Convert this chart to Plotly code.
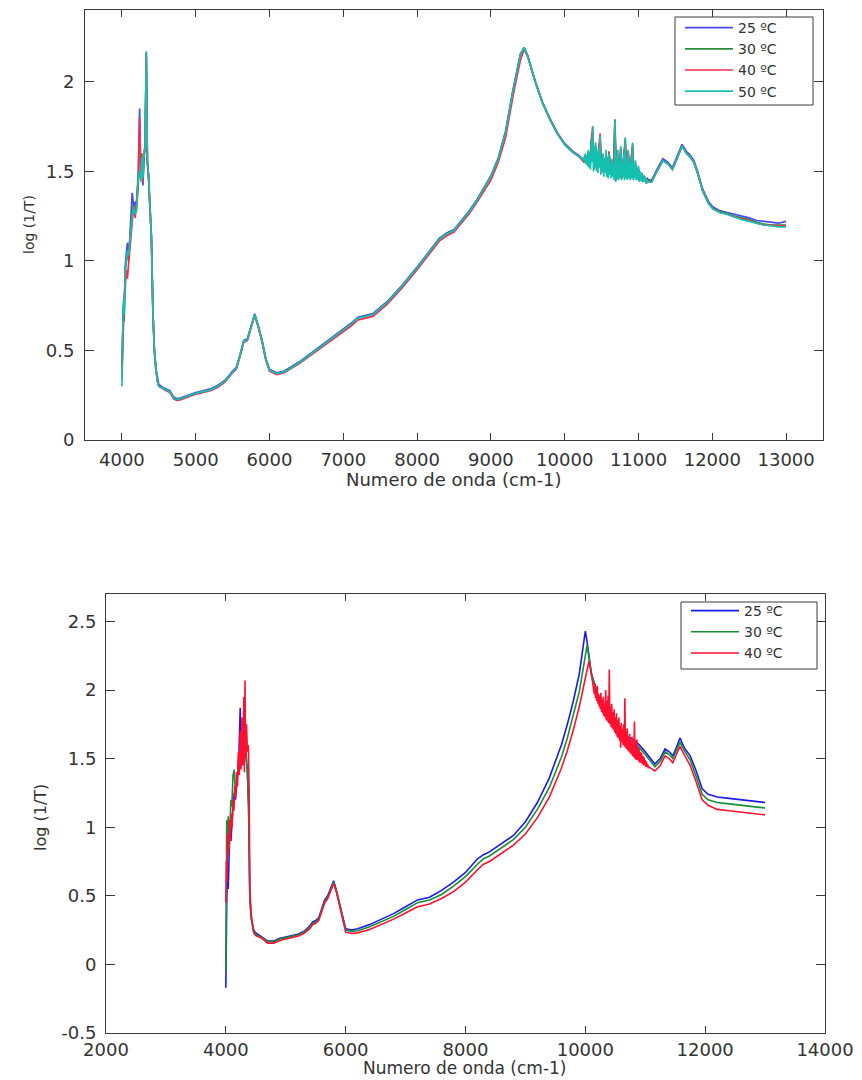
import plotly.graph_objects as go

# ---------------- Top chart data (4 temperatures) ----------------
top_x_a = [4000, 4010, 4020, 4030, 4045, 4060, 4075, 4090, 4105, 4120, 4140, 4160, 4180, 4200, 4220,
           4240, 4255, 4270, 4285, 4300, 4315, 4330, 4345, 4360, 4380, 4400, 4420, 4440, 4460, 4480, 4500]
top_x_b = [4550, 4600, 4650, 4700, 4750, 4800, 4900, 5000, 5100, 5200, 5300, 5400, 5500, 5550, 5600,
           5650, 5700, 5750, 5800, 5850, 5900, 5950, 6000, 6100, 6200, 6400, 6600, 6800, 7000, 7100,
           7200, 7300, 7400, 7600, 7800, 8000, 8200, 8300, 8400, 8500, 8600, 8700, 8800, 9000, 9100,
           9200, 9300, 9400, 9450, 9500, 9600, 9700, 9800, 9900, 10000, 10100, 10200]
top_x_c = [10240, 10260, 10280, 10300, 10320, 10340, 10360, 10380, 10400, 10420,
           10440, 10460, 10480, 10500, 10520, 10540, 10560, 10580, 10600, 10620,
           10640, 10660, 10680, 10700, 10720, 10740, 10760, 10780, 10800, 10820,
           10840, 10860, 10880, 10900, 10920, 10940, 10960, 10980, 11000, 11020,
           11040, 11060, 11080, 11100, 11120, 11140]
top50_x_c = [10240, 10250, 10260, 10270, 10280, 10290, 10300, 10310, 10320, 10330,
             10340, 10350, 10360, 10370, 10380, 10390, 10400, 10410, 10420, 10430,
             10440, 10450, 10460, 10470, 10480, 10490, 10500, 10510, 10520, 10530,
             10540, 10550, 10560, 10570, 10580, 10590, 10600, 10610, 10620, 10630,
             10640, 10650, 10660, 10670, 10680, 10690, 10700, 10710, 10720, 10730,
             10740, 10750, 10760, 10770, 10780, 10790, 10800, 10810, 10820, 10830,
             10840, 10850, 10860, 10870, 10880, 10890, 10900, 10910, 10920, 10930,
             10940, 10950, 10960, 10970, 10980, 10990, 11000, 11010, 11020, 11030,
             11040, 11050, 11060, 11070, 11080, 11090, 11100, 11110, 11120, 11130,
             11140]
top_x_d = [11180, 11250, 11330, 11400, 11460, 11520, 11590, 11650, 11700, 11750, 11800, 11870,
           11950, 12010, 12100, 12200, 12300, 12400, 12500, 12600, 12700, 12800, 12900, 13000]

t25_a = [0.42, 0.62, 0.75, 0.68, 0.97, 1.04, 1.10, 1.00, 1.14, 1.20, 1.38, 1.30, 1.33, 1.30, 1.42,
         1.85, 1.50, 1.55, 1.42, 1.58, 1.64, 2.15, 1.55, 1.48, 1.30, 1.13, 0.72, 0.50, 0.40, 0.34, 0.31]
t30_a = [0.38, 0.58, 0.74, 0.66, 0.94, 1.00, 1.05, 1.02, 1.10, 1.15, 1.28, 1.31, 1.27, 1.32, 1.48,
         1.50, 1.46, 1.60, 1.48, 1.60, 1.65, 2.16, 1.56, 1.48, 1.30, 1.13, 0.72, 0.50, 0.40, 0.33, 0.30]
t40_a = [0.34, 0.45, 0.62, 0.80, 0.85, 0.95, 0.90, 0.98, 1.08, 1.12, 1.22, 1.30, 1.24, 1.34, 1.45,
         1.80, 1.48, 1.57, 1.44, 1.59, 1.62, 2.16, 1.55, 1.48, 1.30, 1.12, 0.72, 0.50, 0.40, 0.33, 0.30]
t50_a = [0.30, 0.50, 0.78, 0.70, 0.95, 1.00, 1.06, 1.03, 1.12, 1.16, 1.25, 1.30, 1.26, 1.28, 1.46,
         1.50, 1.44, 1.58, 1.46, 1.60, 1.63, 2.17, 1.55, 1.48, 1.30, 1.13, 0.72, 0.50, 0.40, 0.33, 0.30]

t25_b = [0.295, 0.285, 0.275, 0.24, 0.23, 0.235, 0.25, 0.265, 0.275, 0.285, 0.305, 0.335, 0.385, 0.405, 0.475,
         0.555, 0.565, 0.635, 0.705, 0.635, 0.555, 0.455, 0.395, 0.375, 0.385, 0.435, 0.495, 0.555, 0.615, 0.65,
         0.685, 0.695, 0.705, 0.775, 0.865, 0.965, 1.075, 1.125, 1.155, 1.175, 1.225, 1.275, 1.335, 1.475, 1.575,
         1.725, 1.955, 2.155, 2.19, 2.145, 2.005, 1.885, 1.795, 1.715, 1.655, 1.615, 1.585]
t30_b = [0.29, 0.28, 0.27, 0.235, 0.225, 0.23, 0.245, 0.26, 0.27, 0.28, 0.30, 0.33, 0.38, 0.40, 0.47,
         0.55, 0.56, 0.63, 0.70, 0.63, 0.55, 0.45, 0.39, 0.37, 0.38, 0.43, 0.49, 0.55, 0.61, 0.645,
         0.68, 0.69, 0.70, 0.77, 0.86, 0.96, 1.07, 1.12, 1.15, 1.17, 1.22, 1.27, 1.33, 1.47, 1.57,
         1.72, 1.95, 2.15, 2.19, 2.14, 2.00, 1.88, 1.79, 1.71, 1.65, 1.61, 1.58]
t40_b = [0.285, 0.275, 0.265, 0.23, 0.22, 0.225, 0.24, 0.255, 0.265, 0.275, 0.295, 0.325, 0.375, 0.395, 0.465,
         0.545, 0.555, 0.625, 0.695, 0.625, 0.545, 0.445, 0.385, 0.365, 0.375, 0.425, 0.485, 0.545, 0.60, 0.635,
         0.67, 0.68, 0.69, 0.76, 0.85, 0.95, 1.06, 1.11, 1.14, 1.16, 1.21, 1.26, 1.32, 1.45, 1.55,
         1.69, 1.92, 2.12, 2.18, 2.14, 2.00, 1.88, 1.79, 1.71, 1.65, 1.61, 1.58]
t50_b = [0.29, 0.28, 0.27, 0.235, 0.225, 0.23, 0.245, 0.26, 0.27, 0.28, 0.30, 0.33, 0.38, 0.40, 0.47,
         0.55, 0.56, 0.63, 0.70, 0.63, 0.55, 0.45, 0.39, 0.37, 0.38, 0.43, 0.49, 0.55, 0.61, 0.645,
         0.68, 0.69, 0.70, 0.77, 0.86, 0.96, 1.07, 1.12, 1.15, 1.17, 1.22, 1.27, 1.33, 1.47, 1.57,
         1.72, 1.95, 2.15, 2.19, 2.14, 2.00, 1.88, 1.79, 1.71, 1.65, 1.61, 1.58]

t25_c = [1.57, 1.56, 1.58, 1.55, 1.60, 1.54, 1.64, 1.70, 1.53, 1.62, 1.54, 1.60, 1.66, 1.51, 1.58, 1.52,
         1.56, 1.49, 1.60, 1.51, 1.55, 1.49, 1.72, 1.48, 1.58, 1.48, 1.62, 1.48, 1.57, 1.65, 1.48, 1.60,
         1.48, 1.56, 1.62, 1.48, 1.53, 1.47, 1.51, 1.46, 1.49, 1.46, 1.47, 1.45, 1.46, 1.45]
t30_c = [1.57, 1.55, 1.59, 1.54, 1.61, 1.53, 1.66, 1.72, 1.52, 1.64, 1.53, 1.61, 1.68, 1.50, 1.59, 1.51,
         1.57, 1.48, 1.61, 1.50, 1.55, 1.48, 1.79, 1.46, 1.59, 1.47, 1.63, 1.47, 1.57, 1.67, 1.47, 1.61,
         1.47, 1.57, 1.64, 1.47, 1.54, 1.46, 1.51, 1.45, 1.49, 1.45, 1.46, 1.44, 1.45, 1.44]
t40_c = [1.56, 1.55, 1.59, 1.54, 1.60, 1.53, 1.67, 1.75, 1.51, 1.63, 1.53, 1.62, 1.71, 1.49, 1.59, 1.51,
         1.57, 1.47, 1.61, 1.50, 1.54, 1.48, 1.77, 1.45, 1.59, 1.47, 1.63, 1.46, 1.57, 1.68, 1.46, 1.61,
         1.47, 1.57, 1.65, 1.47, 1.54, 1.46, 1.51, 1.45, 1.49, 1.44, 1.46, 1.44, 1.45, 1.44]
t50_c = [1.57, 1.56, 1.58, 1.55, 1.60, 1.54, 1.59, 1.53, 1.62, 1.52,
         1.60, 1.51, 1.68, 1.55, 1.75, 1.50, 1.64, 1.52, 1.66, 1.50,
         1.61, 1.49, 1.63, 1.52, 1.70, 1.48, 1.58, 1.50, 1.60, 1.47,
         1.56, 1.49, 1.62, 1.47, 1.58, 1.46, 1.60, 1.48, 1.55, 1.46,
         1.57, 1.47, 1.53, 1.45, 1.78, 1.44, 1.59, 1.46, 1.62, 1.45,
         1.56, 1.46, 1.64, 1.45, 1.55, 1.47, 1.60, 1.45, 1.69, 1.46,
         1.57, 1.45, 1.62, 1.46, 1.55, 1.45, 1.58, 1.46, 1.66, 1.45,
         1.54, 1.46, 1.56, 1.45, 1.52, 1.45, 1.53, 1.44, 1.50, 1.45,
         1.49, 1.44, 1.48, 1.44, 1.47, 1.44, 1.46, 1.43, 1.45, 1.44,
         1.44]

t25_d = [1.45, 1.51, 1.57, 1.55, 1.52, 1.58, 1.65, 1.61, 1.59, 1.56, 1.50, 1.40,
         1.33, 1.30, 1.28, 1.27, 1.26, 1.25, 1.24, 1.225, 1.22, 1.215, 1.21, 1.22]
t30_d = [1.45, 1.50, 1.56, 1.54, 1.51, 1.57, 1.64, 1.60, 1.58, 1.55, 1.49, 1.39,
         1.32, 1.29, 1.275, 1.265, 1.25, 1.24, 1.23, 1.215, 1.205, 1.20, 1.20, 1.20]
t40_d = [1.44, 1.50, 1.56, 1.54, 1.51, 1.57, 1.64, 1.60, 1.58, 1.55, 1.49, 1.39,
         1.32, 1.29, 1.27, 1.26, 1.245, 1.235, 1.225, 1.21, 1.20, 1.20, 1.195, 1.195]
t50_d = [1.44, 1.50, 1.56, 1.54, 1.51, 1.57, 1.64, 1.60, 1.58, 1.55, 1.49, 1.39,
         1.32, 1.29, 1.27, 1.26, 1.245, 1.23, 1.22, 1.21, 1.20, 1.195, 1.19, 1.19]

top_names = ["25 ºC", "30 ºC", "40 ºC", "50 ºC"]
top_colors = ["#4848ff", "#2a8c3a", "#ff2a4a", "#14c0b0"]
top_xticks = [4000, 5000, 6000, 7000, 8000, 9000, 10000, 11000, 12000, 13000]
top_yticks = [0, 0.5, 1, 1.5, 2]

# ---------------- Bottom chart data (3 temperatures) ----------------
bot_x_a = [4000, 4005, 4015, 4025, 4040, 4055, 4070, 4085, 4100, 4120, 4140, 4160, 4180, 4200, 4220,
           4240, 4260, 4280, 4300, 4320, 4340, 4360, 4380, 4400, 4420, 4440, 4460, 4480, 4500]
bot_x_b = [4600, 4700, 4800, 4900, 5000, 5100, 5200, 5300,
           5400, 5450, 5500, 5550, 5600, 5650, 5700, 5750, 5800, 5850, 5900, 5950, 6000,
           6100, 6200, 6400, 6600, 6800, 7000, 7200, 7400, 7600, 7800, 8000,
           8200, 8300, 8400, 8500, 8600, 8800, 9000,
           9200, 9400, 9600, 9700, 9800, 9900, 9950, 10000, 10030, 10060, 10100,
           10200, 10300, 10400, 10500, 10600, 10700, 10800, 10900, 11000, 11100, 11160,
           11250, 11330, 11400, 11460, 11520, 11580, 11650, 11750, 11850, 11950, 12050,
           12200, 12400, 12600, 12800, 13000]

b25_a = [-0.17, 0.30, 0.45, 0.68, 0.55, 0.80, 1.00, 0.90, 1.05, 1.15, 1.25, 1.20, 1.30, 1.45, 1.55,
         1.87, 1.45, 1.55, 1.50, 1.60, 1.48, 1.40, 1.15, 0.50, 0.35, 0.30, 0.26, 0.24, 0.23]
b30_a = [-0.05, 0.60, 1.05, 0.95, 1.08, 0.85, 1.00, 1.20, 1.15, 1.38, 1.42, 1.25, 1.30, 1.40, 1.50,
         1.45, 1.60, 1.50, 1.55, 1.65, 1.50, 1.40, 1.15, 0.50, 0.34, 0.29, 0.25, 0.23, 0.22]
b25_b = [0.20, 0.17, 0.17, 0.19, 0.20, 0.21, 0.22, 0.24,
         0.28, 0.31, 0.32, 0.34, 0.40, 0.47, 0.50, 0.55, 0.61, 0.53, 0.44, 0.33, 0.26,
         0.25, 0.26, 0.29, 0.33, 0.37, 0.42, 0.47, 0.49, 0.54, 0.60, 0.67,
         0.77, 0.80, 0.82, 0.85, 0.88, 0.94, 1.04,
         1.18, 1.36, 1.60, 1.75, 1.92, 2.12, 2.28, 2.43, 2.35, 2.25, 2.12,
         1.98, 1.88, 1.80, 1.74, 1.70, 1.66, 1.64, 1.60, 1.55, 1.49, 1.46,
         1.50, 1.57, 1.55, 1.52, 1.58, 1.65, 1.58, 1.52, 1.41, 1.28, 1.24,
         1.22, 1.21, 1.20, 1.19, 1.18]
b30_b = [0.195, 0.165, 0.165, 0.185, 0.195, 0.205, 0.215, 0.235,
         0.27, 0.30, 0.31, 0.33, 0.39, 0.46, 0.49, 0.54, 0.60, 0.53, 0.44, 0.33, 0.25,
         0.24, 0.245, 0.275, 0.31, 0.35, 0.40, 0.45, 0.47, 0.51, 0.57, 0.64,
         0.73, 0.77, 0.79, 0.82, 0.85, 0.91, 1.00,
         1.13, 1.29, 1.51, 1.65, 1.81, 1.99, 2.12, 2.26, 2.33, 2.24, 2.12,
         1.97, 1.87, 1.79, 1.73, 1.69, 1.65, 1.62, 1.58, 1.53, 1.47, 1.44,
         1.48, 1.55, 1.53, 1.50, 1.56, 1.62, 1.56, 1.49, 1.37, 1.24, 1.20,
         1.18, 1.17, 1.16, 1.15, 1.14]

b40_x_a = [4000, 4010, 4020, 4030, 4045, 4060, 4075, 4090, 4105, 4120, 4135, 4150, 4165, 4180, 4195,
           4210, 4225, 4240, 4255, 4270, 4285, 4300, 4310, 4320, 4330, 4345, 4360, 4375, 4390, 4400,
           4420, 4440, 4460, 4480, 4500]
b40_x_b = [4600, 4700, 4800, 4900, 5000, 5100, 5200, 5300,
           5400, 5450, 5500, 5550, 5600, 5650, 5700, 5750, 5800, 5850, 5900, 5950, 6000,
           6100, 6200, 6400, 6600, 6800, 7000, 7200, 7400, 7600, 7800, 8000,
           8200, 8300, 8400, 8500, 8600, 8800, 9000,
           9200, 9400, 9600, 9700, 9800, 9900, 9950, 10000, 10030, 10060, 10100]
b40_x_c = [10140, 10150, 10160, 10170, 10180, 10190, 10200, 10210, 10220, 10230,
           10240, 10250, 10260, 10270, 10280, 10290, 10300, 10310, 10320, 10330,
           10340, 10350, 10360, 10370, 10380, 10390, 10400, 10410, 10420, 10430,
           10440, 10450, 10460, 10470, 10480, 10490, 10500, 10510, 10520, 10530,
           10540, 10550, 10560, 10570, 10580, 10590, 10600, 10610, 10620, 10630,
           10640, 10650, 10660, 10670, 10680, 10690, 10700, 10710, 10720, 10730,
           10740, 10750, 10760, 10770, 10780, 10790, 10800, 10810, 10820, 10830,
           10840, 10850, 10860, 10870, 10880, 10890, 10900, 10910, 10920, 10930,
           10940, 10950, 10960, 10970, 10980, 10990, 11000, 11010, 11020, 11030,
           11040, 11050, 11060]
b40_x_d = [11100, 11160, 11250, 11330, 11400, 11460, 11520, 11580, 11650, 11750,
           11850, 11950, 12050, 12200, 12400, 12600, 12800, 13000]

b40_a = [0.45, 0.75, 0.60, 0.95, 0.80, 1.05, 0.90, 1.10, 1.00, 1.20, 1.12, 1.30, 1.22, 1.40, 1.30,
         1.55, 1.38, 1.70, 1.42, 1.80, 1.45, 1.95, 1.40, 2.07, 1.50, 1.75, 1.55, 1.60, 1.25, 0.55,
         0.38, 0.30, 0.24, 0.22, 0.21]
b40_b = [0.19, 0.155, 0.155, 0.175, 0.185, 0.195, 0.205, 0.225,
         0.26, 0.29, 0.30, 0.32, 0.38, 0.45, 0.48, 0.53, 0.59, 0.52, 0.43, 0.32, 0.235,
         0.225, 0.23, 0.255, 0.29, 0.33, 0.375, 0.42, 0.44, 0.48, 0.53, 0.60,
         0.69, 0.73, 0.75, 0.78, 0.81, 0.87, 0.95,
         1.07, 1.22, 1.43, 1.56, 1.71, 1.88, 1.99, 2.10, 2.16, 2.21, 2.12]
b40_c = [2.02, 1.97, 2.05, 1.94, 2.00, 1.92, 2.03, 1.90, 1.97, 1.88,
         1.96, 1.86, 1.98, 1.84, 1.93, 1.83, 1.95, 1.81, 1.90, 1.80,
         2.00, 1.78, 1.92, 1.77, 1.96, 1.76, 2.15, 1.75, 1.88, 1.73,
         1.90, 1.72, 1.84, 1.71, 1.86, 1.69, 1.80, 1.68, 1.83, 1.66,
         1.78, 1.65, 1.80, 1.63, 1.74, 1.58, 1.76, 1.62, 1.72, 1.60,
         1.75, 1.59, 1.94, 1.58, 1.70, 1.57, 1.72, 1.56, 1.66, 1.55,
         1.68, 1.54, 1.64, 1.53, 1.66, 1.52, 1.60, 1.51, 1.77, 1.50,
         1.62, 1.49, 1.64, 1.49, 1.58, 1.48, 1.57, 1.47, 1.55, 1.47,
         1.54, 1.46, 1.52, 1.45, 1.51, 1.45, 1.49, 1.44, 1.48, 1.44,
         1.46, 1.43, 1.44]
b40_d = [1.43, 1.41, 1.45, 1.52, 1.50, 1.47, 1.53, 1.59, 1.53, 1.45,
         1.33, 1.20, 1.16, 1.13, 1.12, 1.11, 1.10, 1.09]

bot_names = ["25 ºC", "30 ºC", "40 ºC"]
bot_colors = ["#1a1aee", "#159035", "#ff1030"]
bot_xticks = [2000, 4000, 6000, 8000, 10000, 12000, 14000]
bot_yticks = [-0.5, 0, 0.5, 1, 1.5, 2, 2.5]

x_title = "Numero de onda (cm-1)"
y_title = "log (1/T)"

# ---------------- Build figure ----------------
W, H = 862, 1080
fig = go.Figure()

top_x = top_x_a + top_x_b + top_x_c + top_x_d
top50_x = top_x_a + top_x_b + top50_x_c + top_x_d
top_series = [(top_x, t25_a + t25_b + t25_c + t25_d),
              (top_x, t30_a + t30_b + t30_c + t30_d),
              (top_x, t40_a + t40_b + t40_c + t40_d),
              (top50_x, t50_a + t50_b + t50_c + t50_d)]
for name, (xs, ys), col in zip(top_names, top_series, top_colors):
    fig.add_trace(go.Scatter(x=xs, y=ys, mode="lines", name=name,
                             line=dict(color=col, width=1.7),
                             xaxis="x", yaxis="y", legend="legend"))

bot_x = bot_x_a + bot_x_b
b40_x = b40_x_a + b40_x_b + b40_x_c + b40_x_d
bot_series = [(bot_x, b25_a + b25_b), (bot_x, b30_a + b30_b), (b40_x, b40_a + b40_b + b40_c + b40_d)]
for name, (xs, ys), col in zip(bot_names, bot_series, bot_colors):
    fig.add_trace(go.Scatter(x=xs, y=ys, mode="lines", name=name,
                             line=dict(color=col, width=1.6),
                             xaxis="x2", yaxis="y2", legend="legend2"))


def fmt(v):
    return "%g" % v


axis_common = dict(showline=True, linecolor="#3a3a3a", linewidth=1, mirror="ticks",
                   ticks="inside", tickcolor="#3a3a3a", tickwidth=1,
                   showgrid=False, zeroline=False, automargin=False,
                   tickfont=dict(family="DejaVu Sans", size=18, color="#333"))

fig.update_layout(
    width=W, height=H,
    margin=dict(l=0, r=0, t=0, b=0),
    paper_bgcolor="white", plot_bgcolor="white",
    font=dict(family="DejaVu Sans", size=18, color="#333"),
    xaxis=dict(domain=[85 / W, 823 / W], range=[3500, 13500], anchor="y",
               tickvals=top_xticks, ticktext=[fmt(v) for v in top_xticks],
               ticklen=7, ticklabelstandoff=3, **axis_common),
    yaxis=dict(domain=[1 - 440 / H, 1 - 10 / H], range=[0, 2.4], anchor="x",
               tickvals=top_yticks, ticktext=[fmt(v) for v in top_yticks],
               ticklen=9, ticklabelstandoff=6, **axis_common),
    xaxis2=dict(domain=[106 / W, 825 / W], range=[2000, 14000], anchor="y2",
                tickvals=bot_xticks, ticktext=[fmt(v) for v in bot_xticks],
                ticklen=7, ticklabelstandoff=0, **axis_common),
    yaxis2=dict(domain=[1 - 1033 / H, 1 - 594 / H], range=[-0.5, 2.7], anchor="x2",
                tickvals=bot_yticks, ticktext=[fmt(v) for v in bot_yticks],
                ticklen=9, ticklabelstandoff=5, **axis_common),
    legend=dict(x=680 / W, y=1 - 12 / H, xanchor="left", yanchor="top",
                bgcolor="rgba(0,0,0,0)", borderwidth=0, itemwidth=48,
                font=dict(family="DejaVu Sans", size=14, color="#333")),
    legend2=dict(x=686 / W, y=1 - 595 / H, xanchor="left", yanchor="top",
                 bgcolor="rgba(0,0,0,0)", borderwidth=0, itemwidth=48,
                 font=dict(family="DejaVu Sans", size=14, color="#333")),
    shapes=[
        dict(type="rect", xref="paper", yref="paper", x0=675 / W, x1=813 / W,
             y0=1 - 105 / H, y1=1 - 17 / H, line=dict(color="#3a3a3a", width=1),
             fillcolor="white", layer="above"),
        dict(type="rect", xref="paper", yref="paper", x0=681 / W, x1=817 / W,
             y0=1 - 669 / H, y1=1 - 602 / H, line=dict(color="#3a3a3a", width=1),
             fillcolor="white", layer="above"),
    ],
    annotations=[
        dict(text=x_title, xref="paper", yref="paper", x=454 / W, y=1 - 479 / H,
             xanchor="center", yanchor="middle", showarrow=False,
             font=dict(family="DejaVu Sans", size=18, color="#333")),
        dict(text=x_title, xref="paper", yref="paper", x=465 / W, y=1 - 1068 / H,
             xanchor="center", yanchor="middle", showarrow=False,
             font=dict(family="DejaVu Sans", size=17, color="#333")),
        dict(text=y_title, xref="paper", yref="paper", x=29 / W, y=1 - 225 / H,
             xanchor="center", yanchor="middle", showarrow=False, textangle=-90,
             font=dict(family="DejaVu Sans", size=14, color="#333")),
        dict(text=y_title, xref="paper", yref="paper", x=40 / W, y=1 - 818 / H,
             xanchor="center", yanchor="middle", showarrow=False, textangle=-90,
             font=dict(family="DejaVu Sans", size=16, color="#333")),
    ],
)

fig.write_html("out.html")
